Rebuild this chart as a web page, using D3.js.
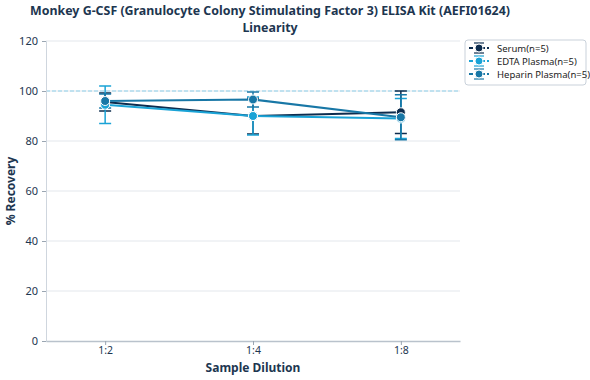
<!DOCTYPE html>
<html><head><meta charset="utf-8">
<script src="https://cdn.jsdelivr.net/npm/d3@7/dist/d3.min.js"></script>
<style>body{margin:0;background:#fff;font-family:"Noto Sans",sans-serif;}</style>
</head><body><svg id="c" width="590" height="380"></svg>
<script>
const categories = ["1:2", "1:4", "1:8"];
const seriesNames = ["Serum(n=5)", "EDTA Plasma(n=5)", "Heparin Plasma(n=5)"];
const serumMean = [95.6, 90.0, 91.5];
const serumErr = [3.6, 7.2, 8.5];
const edtaMean = [94.5, 90.0, 89.0];
const edtaErr = [7.5, 7.6, 8.0];
const heparinMean = [96.0, 96.6, 89.5];
const heparinErr = [2.8, 3.0, 9.0];
const yTicks = [0, 20, 40, 60, 80, 100, 120];
const colors = ["#0d2c4e", "#1aa3d6", "#1877a6"];

const series = [
  {name: seriesNames[0], mean: serumMean, err: serumErr, color: colors[0]},
  {name: seriesNames[1], mean: edtaMean, err: edtaErr, color: colors[1]},
  {name: seriesNames[2], mean: heparinMean, err: heparinErr, color: colors[2]}
];

const svg = d3.select("#c");
const m = {l: 46, r: 130, t: 41, b: 39};
const W = 590, H = 380;
const x = d3.scalePoint().domain(categories).range([m.l, W - m.r]).padding(0.4);
const y = d3.scaleLinear().domain([0, 120]).range([H - m.b, m.t]);
const txt = "#1d3650";

// gridlines
svg.append("g").selectAll("line").data(yTicks.filter(t => t > 0)).join("line")
  .attr("x1", m.l).attr("x2", W - m.r).attr("y1", d => y(d)).attr("y2", d => y(d))
  .attr("stroke", "#e3e7ec").attr("stroke-width", 1);

// reference line at 100
svg.append("line").attr("x1", m.l).attr("x2", W - m.r).attr("y1", y(100)).attr("y2", y(100))
  .attr("stroke", "#8fd0ea").attr("stroke-width", 1).attr("stroke-dasharray", "4,2");

// axes
const yAxis = svg.append("g").attr("transform", `translate(${m.l},0)`)
  .call(d3.axisLeft(y).tickValues(yTicks).tickSize(4).tickPadding(4));
yAxis.select(".domain").attr("stroke", "#cfd6de");
yAxis.selectAll(".tick line").attr("stroke", "#9aa6b2");
yAxis.selectAll("text").attr("fill", txt).attr("font-size", 11).attr("font-family", "Noto Sans");

const xAxis = svg.append("g").attr("transform", `translate(0,${H - m.b})`)
  .call(d3.axisBottom(x).tickSize(4).tickPadding(2).tickSizeOuter(0));
xAxis.select(".domain").attr("stroke", "#b9c2cc").attr("stroke-width", 1.5);
xAxis.selectAll(".tick line").attr("stroke", "#9aa6b2");
xAxis.selectAll("text").attr("fill", txt).attr("font-size", 10.5).attr("font-family", "Noto Sans");

// series
const line = d3.line().x((d, i) => x(categories[i])).y(d => y(d));
series.forEach(s => {
  const g = svg.append("g");
  g.append("path").attr("d", line(s.mean)).attr("fill", "none")
    .attr("stroke", s.color).attr("stroke-width", 2);
  s.mean.forEach((v, i) => {
    const cx = x(categories[i]);
    g.append("line").attr("x1", cx).attr("x2", cx).attr("y1", y(v + s.err[i])).attr("y2", y(v - s.err[i]))
      .attr("stroke", s.color).attr("stroke-width", 1.5);
    [v + s.err[i], v - s.err[i]].forEach(e => {
      g.append("line").attr("x1", cx - 6).attr("x2", cx + 6).attr("y1", y(e)).attr("y2", y(e))
        .attr("stroke", s.color).attr("stroke-width", 1.5);
    });
  });
});
series.forEach(s => {
  svg.append("g").selectAll("circle").data(s.mean).join("circle")
    .attr("cx", (d, i) => x(categories[i])).attr("cy", d => y(d)).attr("r", 4.5)
    .attr("fill", s.color).attr("stroke", "#fff").attr("stroke-width", 1);
});

// titles
svg.append("text").attr("x", 270).attr("y", 15).attr("text-anchor", "middle")
  .attr("font-size", 12.4).attr("font-weight", "bold").attr("fill", txt)
  .text("Monkey G-CSF (Granulocyte Colony Stimulating Factor 3) ELISA Kit (AEFI01624)");
svg.append("text").attr("x", 270).attr("y", 32).attr("text-anchor", "middle")
  .attr("font-size", 12.4).attr("font-weight", "bold").attr("fill", txt).text("Linearity");
svg.append("text").attr("x", (m.l + W - m.r) / 2).attr("y", 372).attr("text-anchor", "middle")
  .attr("font-size", 12).attr("font-weight", "bold").attr("fill", txt).text("Sample Dilution");
svg.append("text").attr("transform", `translate(15,${(m.t + H - m.b) / 2}) rotate(-90)`)
  .attr("text-anchor", "middle").attr("font-size", 12).attr("font-weight", "bold").attr("fill", txt).text("% Recovery");

// legend
const lg = svg.append("g").attr("transform", "translate(465,40)");
lg.append("rect").attr("x", 0).attr("y", 0).attr("width", 121).attr("height", 45).attr("rx", 3)
  .attr("fill", "#fff").attr("stroke", "#c9d1da");
series.forEach((s, i) => {
  const yy = 8 + i * 13;
  lg.append("line").attr("x1", 4).attr("x2", 24).attr("y1", yy).attr("y2", yy)
    .attr("stroke", s.color).attr("stroke-width", 2).attr("stroke-dasharray", "4,2");
  lg.append("line").attr("x1", 9).attr("x2", 19).attr("y1", yy - 5).attr("y2", yy - 5).attr("stroke", s.color).attr("stroke-width", 1.2);
  lg.append("line").attr("x1", 9).attr("x2", 19).attr("y1", yy + 5).attr("y2", yy + 5).attr("stroke", s.color).attr("stroke-width", 1.2);
  lg.append("circle").attr("cx", 14).attr("cy", yy).attr("r", 4).attr("fill", s.color).attr("stroke", "#fff");
  lg.append("text").attr("x", 32).attr("y", yy + 3.5).attr("font-size", 9.5).attr("fill", "#222").text(s.name);
});
</script></body></html>
